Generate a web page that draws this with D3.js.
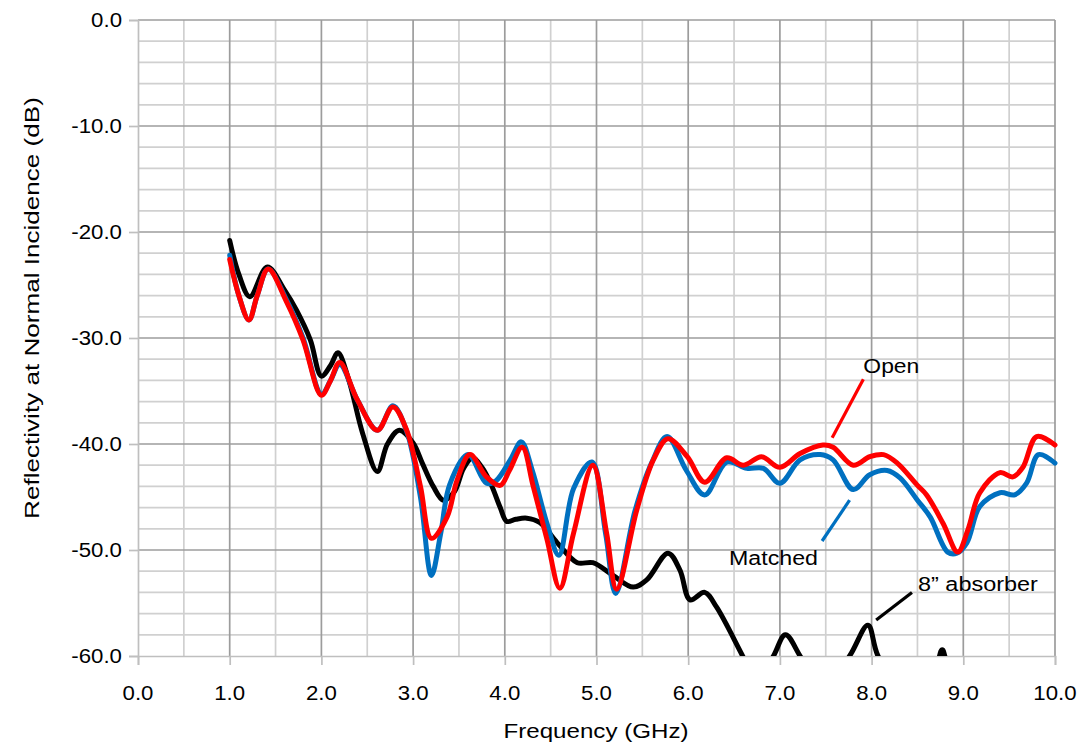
<!DOCTYPE html>
<html>
<head>
<meta charset="utf-8">
<script src="https://cdn.jsdelivr.net/npm/d3@7"></script>
<style>
  html, body { margin: 0; padding: 0; background: #fff; }
  svg { display: block; }
  text { font-family: "Liberation Sans", Arial, sans-serif; fill: #000; }
</style>
</head>
<body>
<svg id="chart" width="1086" height="751"></svg>
<script>
// ---------------- data ----------------
const xTicks = [0,1,2,3,4,5,6,7,8,9,10];
const yTicks = [0,-10,-20,-30,-40,-50,-60];

const absorberFreq = [1.0,1.1,1.22,1.41,1.6,1.73,1.88,2.0,2.1,2.18,2.3,2.45,2.61,2.72,2.85,3.0,3.1,3.22,3.33,3.45,3.55,3.65,3.75,3.85,3.95,4.02,4.12,4.24,4.38,4.57,4.79,4.96,5.18,5.4,5.55,5.78,5.91,6.02,6.18,6.31,6.6,6.75,6.93,7.06,7.22,7.45,7.76,7.96,8.07,8.4,8.7,8.77,8.84,9.2,9.6,10.0];
const absorberDb   = [-20.8,-24.0,-26.1,-23.3,-25.5,-27.4,-30.2,-33.6,-32.6,-31.4,-34.0,-39.0,-42.6,-40.0,-38.7,-39.9,-41.8,-44.0,-45.3,-44.5,-42.3,-41.3,-42.2,-43.8,-46.0,-47.3,-47.1,-47.0,-47.4,-49.3,-51.2,-51.2,-52.4,-53.5,-52.8,-50.3,-51.9,-54.7,-54.0,-55.4,-60.1,-62.5,-60.0,-58.0,-60.0,-63.5,-60.0,-57.1,-60.0,-64.0,-61.0,-59.4,-61.0,-64.0,-63.0,-64.0];

const matchedFreq = [1.0,1.1,1.21,1.3,1.42,1.62,1.8,2.0,2.1,2.2,2.39,2.61,2.78,2.93,3.08,3.2,3.3,3.4,3.6,3.8,3.9,4.06,4.18,4.3,4.46,4.59,4.75,4.95,5.1,5.21,5.42,5.6,5.77,5.98,6.18,6.42,6.64,6.82,7.0,7.22,7.44,7.58,7.8,7.98,8.17,8.31,8.5,8.64,8.83,8.93,9.04,9.18,9.4,9.56,9.69,9.82,10.0];
const matchedDb   = [-22.2,-26.0,-28.3,-26.0,-23.5,-26.4,-30.0,-35.3,-34.0,-32.5,-35.8,-38.7,-36.4,-38.8,-45.0,-52.4,-48.5,-43.8,-41.0,-43.7,-43.5,-41.5,-39.8,-42.5,-47.5,-50.5,-44.2,-41.7,-48.5,-54.1,-46.3,-41.8,-39.3,-42.5,-44.8,-41.7,-42.3,-42.3,-43.7,-41.5,-41.0,-41.5,-44.3,-42.9,-42.5,-43.2,-45.3,-46.9,-50.2,-50.3,-49.3,-45.9,-44.6,-44.8,-43.7,-41.0,-41.8];

const openFreq = [1.0,1.1,1.21,1.3,1.42,1.62,1.8,2.0,2.1,2.2,2.39,2.61,2.78,2.93,3.08,3.2,3.37,3.48,3.62,3.8,3.95,4.05,4.19,4.31,4.46,4.6,4.75,4.96,5.11,5.22,5.44,5.62,5.78,5.99,6.18,6.42,6.6,6.8,7.0,7.22,7.47,7.58,7.8,7.98,8.13,8.28,8.5,8.6,8.78,8.94,9.05,9.18,9.4,9.54,9.65,9.8,10.0];
const openDb   = [-22.6,-26.0,-28.3,-26.0,-23.5,-26.6,-30.2,-35.4,-34.0,-32.3,-35.8,-38.7,-36.5,-38.7,-44.0,-48.9,-46.9,-43.4,-41.0,-43.1,-43.9,-42.5,-40.3,-44.0,-49.0,-53.6,-48.4,-42.0,-48.4,-53.7,-46.2,-41.5,-39.5,-41.2,-43.6,-41.3,-42.0,-41.2,-42.2,-40.9,-40.1,-40.3,-42.0,-41.2,-41.0,-41.8,-43.9,-44.8,-47.5,-50.2,-48.1,-44.6,-42.7,-43.1,-42.2,-39.3,-40.1];

const seriesNames  = ["8\u201D absorber", "Matched", "Open"];
const seriesColors = ["#000000", "#0070C0", "#FF0000"];

// ---------------- layout ----------------
const svg = d3.select("#chart");
const L = 138, R = 1055, T = 20, B = 656;
const x = d3.scaleLinear().domain([0, 10]).range([L, R]);
const y = d3.scaleLinear().domain([-60, 0]).range([B, T]);
const FS = 21;

// grid
const grid = svg.append("g");
const minorX = d3.range(0, 10.01, 0.5).filter(v => Math.abs(v - Math.round(v)) > 0.01);
const minorY = d3.range(-60, 0.01, 2).filter(v => v % 10 !== 0);
grid.selectAll("line.mx").data(minorX).join("line")
  .attr("x1", d => x(d)).attr("x2", d => x(d)).attr("y1", T).attr("y2", B)
  .attr("stroke", "#d0d0d0").attr("stroke-width", 1.7);
grid.selectAll("line.my").data(minorY).join("line")
  .attr("x1", L).attr("x2", R).attr("y1", d => y(d)).attr("y2", d => y(d))
  .attr("stroke", "#d0d0d0").attr("stroke-width", 1.7);
grid.selectAll("line.Mx").data(xTicks.filter(v => v > 0)).join("line")
  .attr("x1", d => x(d)).attr("x2", d => x(d)).attr("y1", T).attr("y2", B)
  .attr("stroke", "#9c9c9c").attr("stroke-width", 1.7);
grid.selectAll("line.My").data(yTicks.filter(v => v > -60)).join("line")
  .attr("x1", L).attr("x2", R).attr("y1", d => y(d)).attr("y2", d => y(d))
  .attr("stroke", "#9c9c9c").attr("stroke-width", 1.7);

// axes
const xAxis = d3.axisBottom(x).tickValues(xTicks).tickSize(9).tickPadding(0).tickFormat(() => "");
const yAxis = d3.axisLeft(y).tickValues(yTicks).tickSize(9).tickPadding(0).tickFormat(() => "");
const gx = svg.append("g").attr("transform", `translate(0,${B})`).call(xAxis);
const gy = svg.append("g").attr("transform", `translate(${L},0)`).call(yAxis);
[gx, gy].forEach(g => {
  g.select(".domain").attr("stroke", "#bfbfbf").attr("stroke-width", 1.7);
  g.selectAll(".tick line").attr("stroke", "#bfbfbf").attr("stroke-width", 1.7);
});

// text helper; optional target width stretches the glyphs horizontally
function label(px, py, str, anchor, size, rot, targetW, sx) {
  const t = svg.append("text")
    .attr("text-anchor", anchor).attr("font-size", size)
    .attr("dominant-baseline", "central")
    .text(str);
  let s = sx || 1.06;
  if (targetW) s = targetW / t.node().getComputedTextLength();
  t.attr("transform", `translate(${px},${py})` + (rot ? ` rotate(${rot})` : "") + ` scale(${s},1)`);
  return t;
}
xTicks.forEach(v => label(x(v), 693, v.toFixed(1), "middle", FS));
yTicks.forEach(v => label(122, y(v), v.toFixed(1), "end", FS));
label((L + R) / 2 - 0.5, 731, "Frequency (GHz)", "middle", FS, 0, 185);
label(32, 308, "Reflectivity at Normal Incidence (dB)", "middle", FS, -90, 422);

// lines
svg.append("clipPath").attr("id", "plotclip").append("rect")
  .attr("x", L - 5).attr("y", T - 5).attr("width", R - L + 10).attr("height", B - T + 5);
const line = d3.line().x(d => x(d[0])).y(d => y(d[1])).curve(d3.curveCatmullRom.alpha(0.5));
const series = [
  d3.zip(absorberFreq, absorberDb),
  d3.zip(matchedFreq, matchedDb),
  d3.zip(openFreq, openDb)
];
const gl = svg.append("g").attr("clip-path", "url(#plotclip)");
series.forEach((s, i) => {
  gl.append("path").datum(s).attr("d", line)
    .attr("fill", "none").attr("stroke", seriesColors[i])
    .attr("stroke-width", 5).attr("stroke-linejoin", "round").attr("stroke-linecap", "round");
});

// annotations (leader lines anchored in data coordinates)
const ann = [
  {name: seriesNames[2], color: seriesColors[2], f: 7.57, db: -39.4, ex: 7.91, edb: -33.9, tx: 7.91, tdb: -32.6, w: 56},
  {name: seriesNames[1], color: seriesColors[1], f: 7.46, db: -49.15, ex: 7.76, edb: -45.3, tx: 6.445, tdb: -50.75, w: 89},
  {name: seriesNames[0], color: seriesColors[0], f: 8.05, db: -56.6, ex: 8.44, edb: -54.0, tx: 8.506, tdb: -53.2, w: 120}
];
ann.forEach(a => {
  svg.append("line").attr("x1", x(a.f)).attr("y1", y(a.db)).attr("x2", x(a.ex)).attr("y2", y(a.edb))
    .attr("stroke", a.color).attr("stroke-width", 3.2);
  label(x(a.tx), y(a.tdb), a.name, "start", FS, 0, a.w);
});
</script>
</body>
</html>
